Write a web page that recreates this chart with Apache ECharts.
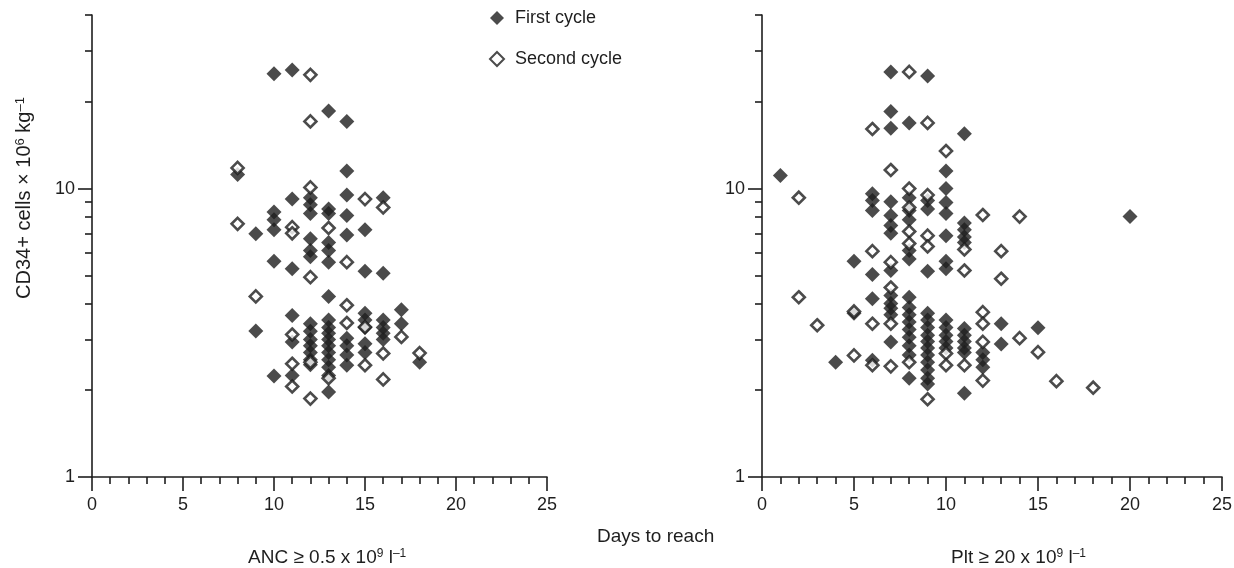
<!DOCTYPE html>
<html><head><meta charset="utf-8">
<script src="https://cdn.jsdelivr.net/npm/echarts@6/dist/echarts.min.js"></script>
<style>html,body{margin:0;padding:0;background:#fff}#c{width:1234px;height:568px}</style>
</head><body><div id="c"></div>
<script>
// ---- data ----
const xTickValues = [0, 5, 10, 15, 20, 25];
const yMajorTicks = [1, 10];
const yMinorTicks = [2, 3, 4, 5, 6, 7, 8, 9, 20, 30, 40];
const legendNames = ['First cycle', 'Second cycle'];

// [days to reach ANC >= 0.5, CD34+ cells x10^6/kg]
const ancFirst = [
  [8,11.2],
  [9,6.98],[9,3.21],
  [10,25.0],[10,8.3],[10,7.8],[10,7.2],[10,5.6],[10,2.24],
  [11,25.8],[11,9.2],[11,5.27],[11,3.63],[11,2.94],[11,2.25],
  [12,9.3],[12,8.8],[12,8.2],[12,6.7],[12,6.1],[12,5.8],[12,3.4],[12,3.2],[12,3.0],[12,2.85],[12,2.7],[12,2.55],[12,2.45],
  [13,18.6],[13,8.5],[13,8.2],[13,6.5],[13,6.1],[13,5.56],[13,4.23],[13,3.5],[13,3.3],[13,3.15],[13,3.0],[13,2.85],[13,2.7],[13,2.55],[13,2.4],[13,2.25],[13,1.97],
  [14,17.1],[14,11.5],[14,9.5],[14,8.07],[14,6.9],[14,3.03],[14,2.85],[14,2.65],[14,2.44],
  [15,7.2],[15,5.17],[15,3.7],[15,3.5],[15,3.3],[15,2.9],[15,2.7],
  [16,9.3],[16,5.09],[16,3.5],[16,3.3],[16,3.15],[16,3.0],
  [17,3.8],[17,3.4],
  [18,2.5]
];
const ancSecond = [
  [8,11.8],[8,7.55],
  [9,4.23],
  [11,7.35],[11,7.0],[11,3.12],[11,2.47],[11,2.06],
  [12,24.8],[12,17.1],[12,10.1],[12,4.93],[12,2.5],[12,1.87],
  [13,7.3],[13,2.2],
  [14,5.56],[14,3.94],[14,3.42],
  [15,9.2],[15,3.31],[15,2.44],
  [16,8.6],[16,2.68],[16,2.18],
  [17,3.06],
  [18,2.69]
];
// [days to reach Plt >= 20, CD34+ cells x10^6/kg]
const pltFirst = [
  [1,11.1],
  [4,2.5],
  [5,5.6],[5,3.7],
  [6,9.6],[6,9.1],[6,8.4],[6,5.04],[6,4.15],[6,2.54],
  [7,25.4],[7,18.5],[7,16.2],[7,9.0],[7,8.07],[7,7.45],[7,7.0],[7,5.2],[7,4.26],[7,4.0],[7,3.85],[7,3.65],[7,2.94],
  [8,16.9],[8,9.3],[8,8.4],[8,7.8],[8,6.1],[8,5.7],[8,4.2],[8,3.87],[8,3.65],[8,3.45],[8,3.25],[8,3.05],[8,2.85],[8,2.65],[8,2.2],
  [9,24.6],[9,9.1],[9,8.5],[9,5.17],[9,3.7],[9,3.5],[9,3.3],[9,3.1],[9,2.95],[9,2.8],[9,2.65],[9,2.5],[9,2.35],[9,2.2],[9,2.1],
  [10,11.5],[10,10.0],[10,8.95],[10,8.2],[10,6.87],[10,5.6],[10,5.27],[10,3.5],[10,3.3],[10,3.1],[10,2.95],[10,2.8],
  [11,15.5],[11,7.6],[11,7.2],[11,6.8],[11,6.5],[11,3.27],[11,3.1],[11,2.95],[11,2.8],[11,2.7],[11,1.95],
  [12,2.7],[12,2.55],[12,2.4],
  [13,3.4],[13,2.89],
  [15,3.29],
  [20,8.0]
];
const pltSecond = [
  [2,9.3],[2,4.2],
  [3,3.36],
  [5,3.75],[5,2.64],
  [6,16.1],[6,6.07],[6,3.4],[6,2.44],
  [7,11.6],[7,5.56],[7,4.54],[7,3.4],[7,2.42],
  [8,25.4],[8,10.0],[8,8.6],[8,7.1],[8,6.45],[8,2.5],
  [9,16.9],[9,9.5],[9,6.87],[9,6.3],[9,1.86],
  [10,13.5],[10,2.68],[10,2.44],
  [11,6.15],[11,5.2],[11,2.44],
  [12,8.1],[12,3.73],[12,3.4],[12,2.94],[12,2.16],
  [13,6.07],[13,4.87],
  [14,8.0],[14,3.03],
  [15,2.71],
  [16,2.15],
  [18,2.04]
];

// ---- chart ----
const FONT = "'Liberation Sans', Arial, Helvetica, sans-serif";
const INK = '#1e1e1e';
const Y_MIN = 1, Y_MAX = 40;
const LMAX = Math.log10(Y_MAX);
const sup = { fontSize: 12, verticalAlign: 'top', lineHeight: 12, fontFamily: FONT, color: INK };
const supY = { fontSize: 13, verticalAlign: 'top', lineHeight: 13, fontFamily: FONT, color: INK };

const grids = [
  { left: 92, top: 15, width: 455, height: 462, outerBoundsMode: 'none', containLabel: false },
  { left: 762, top: 15, width: 460, height: 462, outerBoundsMode: 'none', containLabel: false }
];

const xAxes = grids.map((g, i) => ({
  type: 'value', gridIndex: i, position: 'bottom',
  min: xTickValues[0], max: xTickValues[xTickValues.length - 1],
  interval: xTickValues[1] - xTickValues[0],
  axisLine: { show: true, onZero: false, lineStyle: { color: INK, width: 1.6 } },
  axisTick: { show: true, length: 14, lineStyle: { color: INK, width: 1.6 } },
  minorTick: { show: true, splitNumber: 5, length: 7, lineStyle: { color: INK, width: 1.6 } },
  axisLabel: { fontSize: 18, fontFamily: FONT, color: INK, margin: 19 },
  splitLine: { show: false }, minorSplitLine: { show: false }
}));

const yAxes = [];
grids.forEach((g, i) => {
  // data (log) axis
  yAxes.push({ type: 'log', logBase: 10, gridIndex: i, position: 'left', offset: 0, min: Y_MIN, max: Y_MAX, show: false });
  // major ticks + labels
  yAxes.push({
    type: 'value', gridIndex: i, position: 'left', offset: 0, min: 0, max: LMAX,
    axisLine: { show: true, onZero: false, lineStyle: { color: INK, width: 1.6 } },
    axisTick: { show: true, length: 14, customValues: yMajorTicks.map(Math.log10), lineStyle: { color: INK, width: 1.6 } },
    axisLabel: { show: true, customValues: yMajorTicks.map(Math.log10), fontSize: 18, fontFamily: FONT, color: INK, margin: 17,
      formatter: v => String(Math.round(Math.pow(10, v))) },
    splitLine: { show: false },
    name: i === 0 ? 'CD34+ cells × 10{sup|6} kg{sup|–1}' : '',
    nameLocation: 'middle', nameGap: 58, nameRotate: 90,
    nameTextStyle: { fontSize: 20, fontFamily: FONT, color: INK, padding: [0, 0, 0, 96], rich: { sup: supY } }
  });
  // minor ticks
  yAxes.push({
    type: 'value', gridIndex: i, position: 'left', offset: 0, min: 0, max: LMAX,
    axisLine: { show: false },
    axisTick: { show: true, length: 7, customValues: yMinorTicks.map(Math.log10), lineStyle: { color: INK, width: 1.6 } },
    axisLabel: { show: false }, splitLine: { show: false }
  });
});

const filledStyle = { symbol: 'diamond', symbolSize: 15, itemStyle: { color: INK } };
const hollowStyle = { symbol: 'diamond', symbolSize: 12, itemStyle: { color: '#fff', borderColor: INK, borderWidth: 2.6 } };

const series = [
  Object.assign({ type: 'scatter', name: legendNames[0], xAxisIndex: 0, yAxisIndex: 0, data: ancFirst, z: 2 }, filledStyle),
  Object.assign({ type: 'scatter', name: legendNames[1], xAxisIndex: 0, yAxisIndex: 0, data: ancSecond, z: 3 }, hollowStyle),
  Object.assign({ type: 'scatter', name: legendNames[0], xAxisIndex: 1, yAxisIndex: 3, data: pltFirst, z: 2 }, filledStyle),
  Object.assign({ type: 'scatter', name: legendNames[1], xAxisIndex: 1, yAxisIndex: 3, data: pltSecond, z: 3 }, hollowStyle)
];

const titleText = { fontSize: 19, fontWeight: 'normal', fontFamily: FONT, color: INK, rich: { sup } };

const option = {
  animation: false,
  backgroundColor: '#fff',
  textStyle: { fontFamily: FONT },
  grid: grids,
  xAxis: xAxes,
  yAxis: yAxes,
  legend: {
    data: legendNames, orient: 'vertical', left: 484, top: 4,
    itemWidth: 14, itemHeight: 14, itemGap: 23,
    textStyle: { fontSize: 18, fontFamily: FONT, color: INK, padding: [0, 0, 0, 6] },
    selectedMode: false
  },
  title: [
    { text: 'Days to reach', left: 597, top: 527, padding: 0, textStyle: titleText },
    { text: 'ANC ≥ 0.5 x 10{sup|9} l{sup|–1}', left: 248, top: 548, padding: 0, textStyle: titleText },
    { text: 'Plt ≥ 20 x 10{sup|9} l{sup|–1}', left: 951, top: 548, padding: 0, textStyle: titleText }
  ],
  series
};

const chart = echarts.init(document.getElementById('c'), null, { renderer: 'canvas' });
chart.setOption(option);
</script>
</body></html>
